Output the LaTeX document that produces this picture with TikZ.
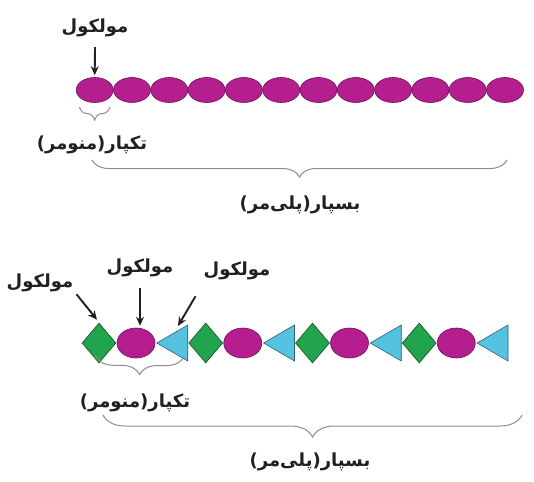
\documentclass[tikz,border=0pt]{standalone}
\usepackage{fontspec}
\usetikzlibrary{shapes.geometric,decorations.pathreplacing,arrows.meta}
\TeXXeTstate=1
\newfontfamily\fafont[Script=Arabic]{DejaVu Sans}
\definecolor{beadmag}{HTML}{B41E8E}
\definecolor{monogreen}{HTML}{22A34D}
\definecolor{monocyan}{HTML}{55C2E2}
\definecolor{bracegray}{HTML}{8E8E8E}
\definecolor{txtgray}{HTML}{231F20}

\begin{document}
\begin{tikzpicture}[x=1pt,y=-1pt,
    bead/.style={ellipse,fill=beadmag,draw=beadmag!60!black,line width=0.6pt,inner sep=0pt,minimum width=37pt,minimum height=25pt},
    gem/.style={diamond,fill=monogreen,draw=monogreen!50!black,line width=0.6pt,inner sep=0pt,minimum width=34pt,minimum height=40pt},
    wedge/.style={isosceles triangle,shape border rotate=180,isosceles triangle stretches,fill=monocyan,draw=monocyan!50!black,line width=0.6pt,inner sep=0pt,minimum width=36pt,minimum height=31pt,anchor=apex},
    lbl/.style={font=\fafont\bfseries\fontsize{18}{20}\selectfont,text=txtgray,inner sep=1pt},
    arr/.style={-{Stealth[length=9pt,width=8pt]},line width=1.9pt,draw=txtgray},
    brc/.style={decorate,decoration={brace,mirror,amplitude=#1},draw=bracegray,line width=1pt}]
    \useasboundingbox (0,0) rectangle (534,481);
    \fill[white] (0,0) rectangle (534,481);

    \foreach \i in {0,...,11}
        \node[bead] (b\i) at (94.7+37.3*\i,90) {};
    \node[lbl] (mol) at (95,28) {\beginR مولکول\endR};
    \draw[arr] ([yshift=-9pt]mol.south) -- ([yshift=2pt]b0.north);
    \draw[brc=13pt] ([xshift=-2pt,yshift=-8pt]b0.south west) -- ([xshift=2pt,yshift=-8pt]b0.south east);
    \node[lbl] (mono1) at (92,145) {\beginR تکپار(منومر)\endR};
    \draw[brc=17pt] (92,160) -- (507,160);
    \node[lbl] (poly1) at (300,205) {\beginR بسپار(پلی‌مر)\endR};

    \foreach \i in {0,...,3} {
        \node[gem] (d\i) at (99+106.75*\i,343) {};
        \node[bead,minimum width=38pt,minimum height=30pt] (e\i) at (136+106.75*\i,343) {};
        \node[wedge] (t\i) at (156+106.75*\i,343) {};
    }
    \node[lbl] (molA) at (40,283) {\beginR مولکول\endR};
    \node[lbl] (molB) at (140,268) {\beginR مولکول\endR};
    \node[lbl] (molC) at (237,271) {\beginR مولکول\endR};
    \draw[arr] ([xshift=2pt,yshift=-1pt]molA.south east) -- ([xshift=-2pt,yshift=3pt]d0.north);
    \draw[arr] ([yshift=-10pt]molB.south) -- ([xshift=4pt,yshift=2pt]e0.north);
    \draw[arr] ([xshift=-7pt,yshift=-15pt]molC.south west) -- ([xshift=22pt,yshift=17pt]t0.apex);
    \draw[brc=18pt] ([xshift=5pt,yshift=-3pt]d0.south west) -- ([xshift=-4pt,yshift=-3pt]t0.south east);
    \node[lbl] (mono2) at (135,403) {\beginR تکپار(منومر)\endR};
    \draw[brc=22pt] (103,415) -- (522,415);
    \node[lbl] (poly2) at (310,462) {\beginR بسپار(پلی‌مر)\endR};
\end{tikzpicture}
\end{document}
